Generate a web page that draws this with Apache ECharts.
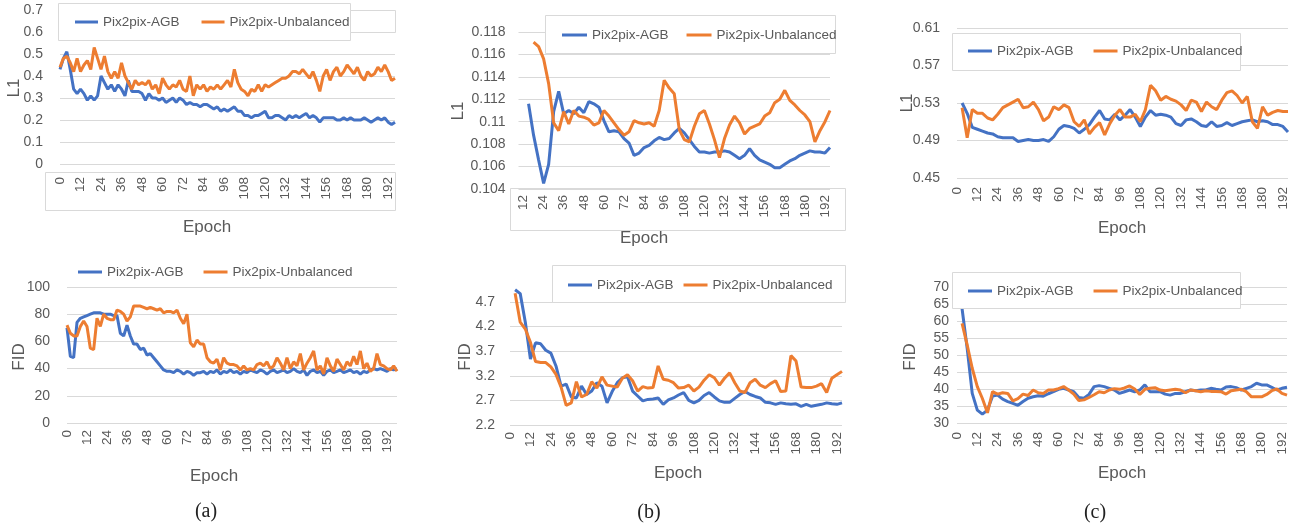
<!DOCTYPE html>
<html><head><meta charset="utf-8">
<script src="https://cdn.jsdelivr.net/npm/echarts@6/dist/echarts.min.js"></script>
<style>html,body{margin:0;padding:0;background:#fff}#c{width:1296px;height:529px}</style>
</head><body><div id="c"></div>
<script>
const seriesNames = ['Pix2pix-AGB', 'Pix2pix-Unbalanced'];

// Epoch categories
const aTopEpochs = [0,2,4,6,8,10,12,14,16,18,20,22,24,26,28,30,32,34,36,38,40,42,44,46,48,50,52,54,56,58,60,62,64,66,68,70,72,74,76,78,80,82,84,86,88,90,92,94,96,98,100,102,104,106,108,110,112,114,116,118,120,122,124,126,128,130,132,134,136,138,140,142,144,146,148,150,152,154,156,158,160,162,164,166,168,170,172,174,176,178,180,182,184,186,188,190,192,194,196];
const aBotEpochs = [0,2,4,6,8,10,12,14,16,18,20,22,24,26,28,30,32,34,36,38,40,42,44,46,48,50,52,54,56,58,60,62,64,66,68,70,72,74,76,78,80,82,84,86,88,90,92,94,96,98,100,102,104,106,108,110,112,114,116,118,120,122,124,126,128,130,132,134,136,138,140,142,144,146,148,150,152,154,156,158,160,162,164,166,168,170,172,174,176,178,180,182,184,186,188,190,192,194,196,198];
const bTopEpochs = [9,12,15,18,21,24,27,30,33,36,39,42,45,48,51,54,57,60,63,66,69,72,75,78,81,84,87,90,93,96,99,102,105,108,111,114,117,120,123,126,129,132,135,138,141,144,147,150,153,156,159,162,165,168,171,174,177,180,183,186,189,192,195];
const step3Epochs = [0,3,6,9,12,15,18,21,24,27,30,33,36,39,42,45,48,51,54,57,60,63,66,69,72,75,78,81,84,87,90,93,96,99,102,105,108,111,114,117,120,123,126,129,132,135,138,141,144,147,150,153,156,159,162,165,168,171,174,177,180,183,186,189,192,195];

// (a) L1
const aTopAGB = [0.43,0.48,0.51,0.43,0.34,0.32,0.34,0.32,0.29,0.31,0.29,0.31,0.40,0.37,0.34,0.36,0.33,0.36,0.34,0.31,0.38,0.33,0.33,0.33,0.32,0.29,0.32,0.30,0.30,0.29,0.30,0.28,0.29,0.30,0.28,0.30,0.29,0.27,0.28,0.27,0.27,0.26,0.27,0.27,0.26,0.25,0.26,0.24,0.25,0.24,0.25,0.26,0.24,0.24,0.22,0.22,0.21,0.22,0.22,0.23,0.24,0.21,0.21,0.22,0.22,0.21,0.20,0.22,0.21,0.22,0.21,0.22,0.23,0.21,0.22,0.21,0.19,0.21,0.21,0.21,0.21,0.20,0.20,0.21,0.20,0.21,0.20,0.20,0.20,0.21,0.20,0.19,0.20,0.21,0.20,0.21,0.19,0.18,0.19];
const aTopUnb = [0.44,0.48,0.49,0.46,0.42,0.48,0.42,0.45,0.47,0.43,0.53,0.48,0.43,0.49,0.42,0.39,0.42,0.39,0.46,0.40,0.37,0.34,0.38,0.36,0.37,0.36,0.38,0.34,0.36,0.32,0.39,0.36,0.34,0.36,0.35,0.38,0.34,0.33,0.40,0.31,0.36,0.34,0.36,0.33,0.35,0.34,0.36,0.34,0.36,0.38,0.35,0.43,0.37,0.34,0.33,0.31,0.34,0.33,0.36,0.33,0.36,0.35,0.36,0.37,0.38,0.39,0.39,0.40,0.42,0.42,0.41,0.43,0.41,0.39,0.42,0.38,0.33,0.40,0.43,0.38,0.42,0.44,0.40,0.42,0.45,0.43,0.41,0.44,0.40,0.38,0.42,0.40,0.41,0.44,0.42,0.45,0.42,0.38,0.39];
// (b) L1
const bTopAGB = [null,null,0.1116,0.1088,0.1066,0.1045,0.1062,0.1109,0.1127,0.1107,0.1110,0.1107,0.1113,0.1108,0.1118,0.1116,0.1113,0.1101,0.1091,0.1092,0.1091,0.1085,0.1081,0.1070,0.1072,0.1077,0.1079,0.1083,0.1086,0.1084,0.1085,0.1090,0.1094,0.1090,0.1084,0.1078,0.1073,0.1073,0.1072,0.1073,0.1073,0.1074,0.1073,0.1070,0.1067,0.1070,0.1076,0.1070,0.1066,0.1064,0.1062,0.1059,0.1059,0.1062,0.1065,0.1067,0.1070,0.1072,0.1074,0.1073,0.1073,0.1072,0.1077];
const bTopUnb = [null,null,null,0.1171,0.1167,0.1156,0.1134,0.1099,0.1092,0.1109,0.1098,0.1110,0.1105,0.1104,0.1102,0.1097,0.1099,0.1110,0.1105,0.1099,0.1093,0.1088,0.1091,0.1101,0.1099,0.1098,0.1099,0.1096,0.1110,0.1137,0.1130,0.1125,0.1093,0.1084,0.1082,0.1096,0.1107,0.1110,0.1098,0.1084,0.1068,0.1085,0.1097,0.1105,0.1099,0.1089,0.1094,0.1096,0.1098,0.1105,0.1108,0.1117,0.1120,0.1128,0.1119,0.1115,0.1110,0.1106,0.1100,0.1082,0.1092,0.1100,0.1110];
// (c) L1
const cTopAGB = [null,0.530,0.519,0.504,0.502,0.500,0.498,0.497,0.494,0.493,0.493,0.493,0.489,0.490,0.491,0.490,0.490,0.491,0.489,0.494,0.502,0.506,0.505,0.503,0.498,0.502,0.507,0.515,0.522,0.513,0.512,0.518,0.512,0.517,0.523,0.515,0.505,0.515,0.522,0.517,0.518,0.517,0.515,0.508,0.506,0.512,0.513,0.510,0.506,0.505,0.510,0.505,0.506,0.509,0.506,0.508,0.510,0.511,0.512,0.510,0.511,0.510,0.507,0.507,0.505,0.499];
const cTopUnb = [null,0.525,0.493,0.523,0.519,0.519,0.514,0.512,0.518,0.525,0.528,0.531,0.534,0.525,0.526,0.531,0.523,0.511,0.515,0.526,0.523,0.528,0.525,0.510,0.505,0.512,0.497,0.504,0.509,0.496,0.508,0.517,0.523,0.515,0.515,0.518,0.510,0.523,0.549,0.543,0.533,0.537,0.534,0.532,0.528,0.522,0.533,0.531,0.521,0.531,0.526,0.523,0.533,0.541,0.543,0.538,0.530,0.537,0.510,0.503,0.526,0.517,0.520,0.522,0.521,0.521];
// (a) FID
const aBotAGB = [70,49,48,74,77,78,79,80,81,81,81,80,80,80,79,79,66,64,72,64,58,58,54,55,50,51,48,45,42,39,38,38,37,39,38,36,38,37,35,37,37,38,36,38,37,39,36,38,37,39,37,38,36,38,37,39,38,37,39,38,36,38,39,37,38,39,37,38,40,38,37,39,35,38,39,37,38,35,38,39,37,38,39,37,38,39,37,38,36,38,37,39,40,39,40,39,38,40,39,40];
const aBotUnb = [72,66,64,64,71,75,71,55,54,77,71,80,77,76,76,83,82,80,75,78,86,86,86,85,84,85,84,83,84,81,82,82,81,83,77,73,80,59,56,61,58,58,48,45,44,47,39,48,44,43,43,42,39,42,39,40,39,43,44,42,45,40,42,48,44,39,48,40,45,42,51,39,44,48,53,39,42,36,48,42,38,47,43,39,45,42,49,43,53,40,44,38,40,51,43,42,40,39,42,38];
// (b) FID
const bBotAGB = [null,4.95,4.87,4.29,3.54,3.87,3.85,3.72,3.66,3.40,2.99,3.03,2.77,2.75,2.99,2.82,2.89,3.06,2.99,2.65,2.88,3.06,3.16,3.18,2.89,2.79,2.69,2.72,2.73,2.75,2.62,2.71,2.75,2.81,2.86,2.70,2.65,2.70,2.80,2.86,2.77,2.69,2.66,2.66,2.74,2.82,2.88,2.82,2.78,2.75,2.66,2.65,2.62,2.65,2.63,2.62,2.63,2.58,2.62,2.58,2.60,2.62,2.65,2.63,2.62,2.65];
const bBotUnb = [null,4.88,4.29,4.15,3.88,3.49,3.47,3.47,3.38,3.23,2.97,2.60,2.65,3.08,2.77,2.82,3.08,2.95,3.18,3.01,2.99,2.97,3.15,3.22,3.10,2.89,2.98,2.95,2.96,3.40,3.13,3.11,3.06,2.95,2.96,3.01,2.89,2.97,3.11,3.22,3.16,3.01,3.15,3.26,3.06,2.89,2.86,3.06,3.13,3.01,2.96,3.04,3.10,2.88,2.89,3.61,3.50,2.97,2.96,2.96,2.99,3.04,2.86,3.15,3.22,3.29];
// (c) FID
const cBotAGB = [69,63.6,52.0,38.7,33.8,32.6,33.8,37.9,38.2,37.0,36.3,35.8,35.2,36.3,37.3,37.7,38.0,37.9,38.6,39.2,39.9,40.2,39.7,39.2,37.5,37.3,38.4,40.7,41.0,40.7,40.2,39.7,38.7,39.2,39.7,39.2,39.7,41.2,39.2,39.2,39.2,38.5,38.2,38.7,38.7,39.2,39.7,39.5,39.7,39.7,40.2,39.9,39.7,40.6,40.7,40.4,39.7,40.2,40.7,41.7,41.2,41.2,40.5,39.7,40.2,40.5];
const cBotUnb = [null,59.3,53.0,46.1,40.7,37.2,33.0,39.2,38.5,38.9,38.7,36.5,37.2,38.5,38.1,39.7,38.9,38.7,39.7,39.7,40.1,40.7,39.7,38.5,36.6,36.8,37.5,38.3,39.2,38.9,39.7,40.1,39.9,40.3,40.9,40.0,38.4,39.9,40.2,40.4,39.7,39.5,39.7,39.9,39.7,38.9,39.7,39.5,39.2,39.5,39.3,39.3,39.2,38.5,39.5,39.7,39.9,39.2,37.7,37.7,37.7,38.4,39.5,40.0,38.7,38.2];

const panels = [
  {grid:{left:60,top:10,width:335,height:154}, cats:aTopEpochs, s:[aTopAGB,aTopUnb], y:{min:0,max:0.7,interval:0.1}, xm:13, ym:17, lg:{left:75,top:15,itemWidth:23,itemGap:22}},
  {grid:{left:518.5,top:32,width:311.5,height:157}, cats:bTopEpochs, s:[bTopAGB,bTopUnb], y:{min:0.104,max:0.118,interval:0.002}, xm:6, ym:13, lg:{left:562,top:28,itemWidth:25,itemGap:18}},
  {grid:{left:957,top:28,width:331,height:150}, cats:step3Epochs, s:[cTopAGB,cTopUnb], y:{min:0.45,max:0.61,interval:0.04}, xm:9, ym:17, lg:{left:968,top:44,itemWidth:24,itemGap:20}},
  {grid:{left:67,top:287,width:330,height:136}, cats:aBotEpochs, s:[aBotAGB,aBotUnb], y:{min:0,max:100,interval:20}, xm:7, ym:17, lg:{left:78,top:265,itemWidth:24,itemGap:20}},
  {grid:{left:510,top:302,width:332,height:123}, cats:step3Epochs, s:[bBotAGB,bBotUnb], y:{min:2.2,max:4.7,interval:0.5}, xm:7, ym:15, lg:{left:568,top:278,itemWidth:24,itemGap:10}},
  {grid:{left:957,top:287,width:330,height:136}, cats:step3Epochs, s:[cBotAGB,cBotUnb], y:{min:30,max:70,interval:5}, xm:9, ym:8, lg:{left:968,top:284,itemWidth:24,itemGap:20}}
];

const FONT = '"Liberation Sans", Arial, sans-serif';
const TXT = '#595959';
const colors = ['#4472C4', '#ED7D31'];

const option = {
  animation: false,
  backgroundColor: '#ffffff',
  textStyle: {fontFamily: FONT},
  grid: [], xAxis: [], yAxis: [], series: [], legend: []
};

panels.forEach((p, i) => {
  option.grid.push(Object.assign({containLabel:false}, p.grid));
  option.xAxis.push({
    type:'category', gridIndex:i, data:p.cats, boundaryGap:false,
    axisLine:{show:false}, axisTick:{show:false}, splitLine:{show:false},
    axisLabel:{rotate:90, margin:p.xm, color:TXT, fontSize:13.5, fontFamily:FONT,
      interval:(idx, val) => Number(val) % 12 === 0}
  });
  option.yAxis.push({
    type:'value', gridIndex:i, min:p.y.min, max:p.y.max, interval:p.y.interval,
    axisLine:{show:false}, axisTick:{show:false},
    splitLine:{show:true, lineStyle:{color:'#d9d9d9', width:1}},
    axisLabel:{margin:p.ym, color:TXT, fontSize:14, fontFamily:FONT}
  });
  p.s.forEach((d, k) => {
    option.series.push({
      type:'line', name:seriesNames[k], xAxisIndex:i, yAxisIndex:i, data:d,
      symbol:'none', showSymbol:false, clip: i !== 4,
      lineStyle:{color:colors[k], width:3}, itemStyle:{color:colors[k]},
      connectNulls:false, z: 2 + k
    });
  });
  option.legend.push(Object.assign({
    data:seriesNames.map((n, k) => ({name:n, icon:'rect', itemStyle:{color:colors[k]}})),
    padding:0, itemHeight:3, selectedMode:false,
    textStyle:{color:TXT, fontSize:13.5, fontFamily:FONT}
  }, p.lg));
});

const boxes = [
  [58,3,292,37,true],[350,10,45,22,true],[45,172,350,38,false],
  [545,15,290,38,true],[510,188,335,42,false],
  [952,33,288,37,true],
  [552,265,293,37,true],
  [952,272,288,36,true]
];
const titles = [
  ['L1',14,88,true],['Epoch',207,227,false],
  ['L1',458,111,true],['Epoch',644,238,false],
  ['L1',907,103,true],['Epoch',1122,228,false],
  ['FID',19,357,true],['Epoch',214,476,false],
  ['FID',465,357,true],['Epoch',678,473,false],
  ['FID',910,357,true],['Epoch',1122,473,false]
];
const captions = [['(a)',206,512],['(b)',649,513],['(c)',1095,513]];

const elements = [];
boxes.forEach(b => elements.push({
  type:'rect', z:3, silent:true,
  shape:{x:b[0]+0.5, y:b[1]+0.5, width:b[2], height:b[3]},
  style:{fill: b[4] ? '#ffffff' : 'none', stroke:'#d9d9d9', lineWidth:1}
}));
titles.forEach(t => elements.push({
  type:'text', z:5, x:t[1], y:t[2], rotation: t[3] ? Math.PI/2 : 0,
  style:{text:t[0], fill:TXT, fontSize:17, fontFamily:FONT, align:'center', verticalAlign:'middle'}
}));
captions.forEach(t => elements.push({
  type:'text', z:5, x:t[1], y:t[2],
  style:{text:t[0], fill:'#222', fontSize:20, fontFamily:'"Liberation Serif", "DejaVu Serif", serif', align:'center', verticalAlign:'middle'}
}));
option.graphic = {elements};

const chart = echarts.init(document.getElementById('c'), null, {renderer:'canvas'});
chart.setOption(option);
</script>
</body></html>
